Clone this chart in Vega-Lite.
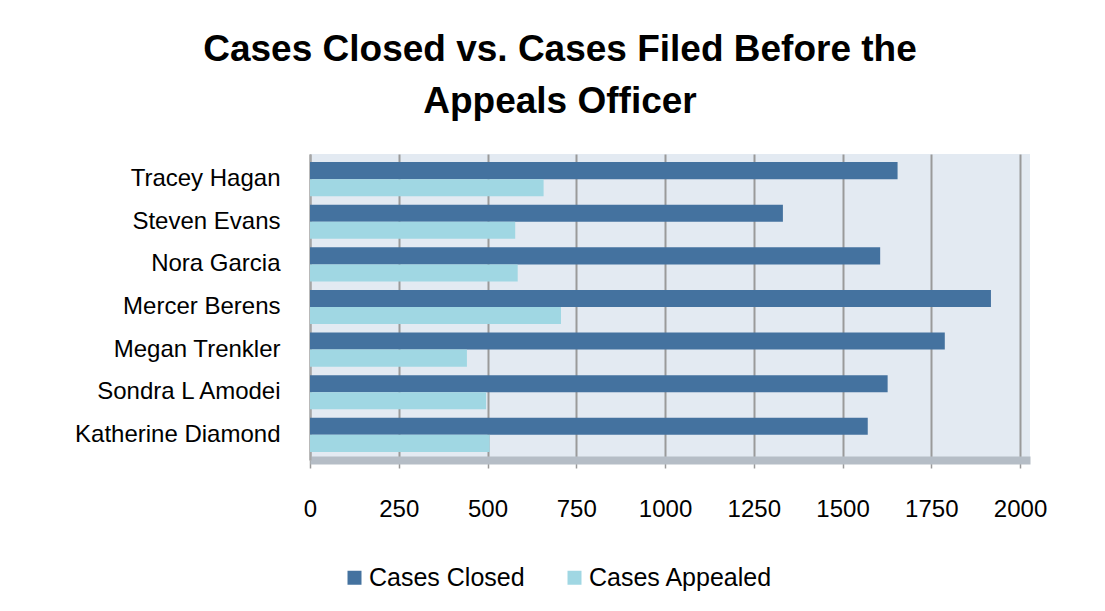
{
  "$schema": "https://vega.github.io/schema/vega-lite/v6.json",
  "width": 720,
  "height": 306,
  "autosize": {"type": "none"},
  "padding": {"left": 310, "top": 154, "right": 75, "bottom": 151},
  "background": "white",
  "title": {
    "text": ["Cases Closed vs. Cases Filed Before the", "Appeals Officer"],
    "font": "Liberation Sans",
    "fontSize": 37,
    "fontWeight": "bold",
    "color": "#000000",
    "anchor": "middle",
    "frame": "group",
    "dx": -110,
    "offset": 33,
    "lineHeight": 52
  },
  "data": {
    "values": [
      {"name": "Tracey Hagan", "series": "Cases Closed", "value": 1655},
      {"name": "Tracey Hagan", "series": "Cases Appealed", "value": 658},
      {"name": "Steven Evans", "series": "Cases Closed", "value": 1332},
      {"name": "Steven Evans", "series": "Cases Appealed", "value": 578},
      {"name": "Nora Garcia", "series": "Cases Closed", "value": 1606},
      {"name": "Nora Garcia", "series": "Cases Appealed", "value": 585},
      {"name": "Mercer Berens", "series": "Cases Closed", "value": 1918},
      {"name": "Mercer Berens", "series": "Cases Appealed", "value": 707},
      {"name": "Megan Trenkler", "series": "Cases Closed", "value": 1788},
      {"name": "Megan Trenkler", "series": "Cases Appealed", "value": 442},
      {"name": "Sondra L Amodei", "series": "Cases Closed", "value": 1627},
      {"name": "Sondra L Amodei", "series": "Cases Appealed", "value": 496},
      {"name": "Katherine Diamond", "series": "Cases Closed", "value": 1571},
      {"name": "Katherine Diamond", "series": "Cases Appealed", "value": 506}
    ]
  },
  "mark": {"type": "bar"},
  "encoding": {
    "y": {
      "field": "name",
      "type": "nominal",
      "sort": ["Tracey Hagan", "Steven Evans", "Nora Garcia", "Mercer Berens", "Megan Trenkler", "Sondra L Amodei", "Katherine Diamond"],
      "scale": {"paddingInner": 0.2, "paddingOuter": 0.19},
      "axis": {
        "title": null,
        "domain": true,
        "domainColor": "#A6A6A6",
        "domainWidth": 2,
        "ticks": false,
        "labelFont": "Liberation Sans",
        "labelFontSize": 24,
        "labelColor": "#000000",
        "labelPadding": 30,
        "labelLimit": 400
      }
    },
    "yOffset": {"field": "series", "type": "nominal", "sort": ["Cases Closed", "Cases Appealed"]},
    "x": {
      "field": "value",
      "type": "quantitative",
      "scale": {"domain": [0, 2028], "nice": false},
      "axis": {
        "title": null,
        "values": [0, 250, 500, 750, 1000, 1250, 1500, 1750, 2000],
        "format": "d",
        "grid": true,
        "gridColor": "#9A9A9A",
        "gridWidth": 2,
        "domain": true,
        "domainColor": "#B5BDC6",
        "domainWidth": 8,
        "ticks": true,
        "tickColor": "#9A9A9A",
        "tickSize": 8,
        "tickWidth": 1.5,
        "labelFont": "Liberation Sans",
        "labelFontSize": 24,
        "labelColor": "#000000",
        "labelPadding": 29,
        "labelFlush": false
      }
    },
    "color": {
      "field": "series",
      "type": "nominal",
      "scale": {"domain": ["Cases Closed", "Cases Appealed"], "range": ["#44729F", "#A0D7E3"]},
      "legend": {
        "orient": "none",
        "legendX": 32,
        "legendY": 411,
        "direction": "horizontal",
        "title": null,
        "symbolType": "square",
        "symbolSize": 196,
        "symbolStrokeWidth": 0,
        "labelFont": "Liberation Sans",
        "labelFontSize": 25,
        "labelColor": "#000000",
        "labelOffset": 2,
        "labelLimit": 400,
        "columnPadding": 37,
        "padding": 0
      }
    }
  },
  "config": {"view": {"fill": "#E3EAF2", "stroke": null}}
}
